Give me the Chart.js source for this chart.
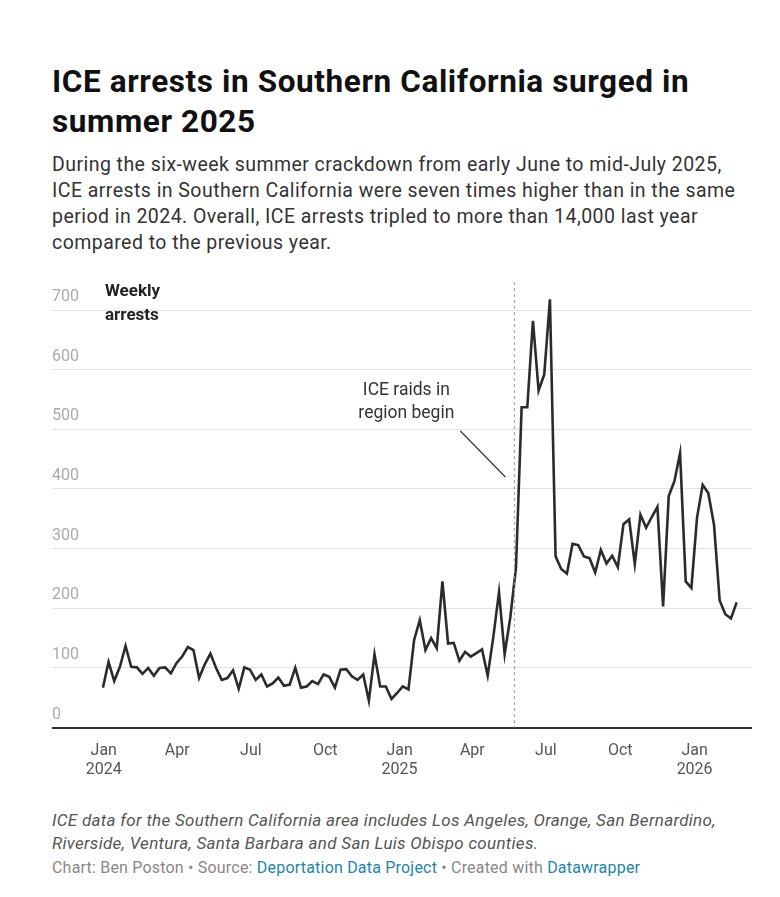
<!DOCTYPE html>
<html><head><meta charset="utf-8">
<script src="https://cdn.jsdelivr.net/npm/chart.js@4"></script>
<style>
body{margin:0;background:#fff;font-family:Roboto,sans-serif;color:#222;width:780px;height:897px;position:relative;overflow:hidden}
h1{position:absolute;left:52px;top:62px;margin:0;font-size:31.5px;line-height:40px;font-weight:700;width:700px;color:#111;letter-spacing:0.6px}
.sub{position:absolute;left:52px;top:152px;width:700px;font-size:19.5px;line-height:26px;color:#333;letter-spacing:0.45px}
#wrap{position:absolute;left:52px;top:280px;width:700px;height:506px}
.note{position:absolute;left:52px;top:809px;width:720px;font-size:17px;line-height:23px;font-style:italic;color:#555;letter-spacing:0.3px}
.src{position:absolute;left:52px;top:858px;font-size:16px;color:#888;letter-spacing:0.2px}
.src span{color:#1b86a8}
</style></head><body>
<h1>ICE arrests in Southern California surged in summer 2025</h1>
<div class="sub">During the six-week summer crackdown from early June to mid-July 2025, ICE arrests in Southern California were seven times higher than in the same period in 2024. Overall, ICE arrests tripled to more than 14,000 last year compared to the previous year.</div>
<div id="wrap"><canvas id="c"></canvas></div>
<div class="note">ICE data for the Southern California area includes Los Angeles, Orange, San Bernardino, Riverside, Ventura, Santa Barbara and San Luis Obispo counties.</div>
<div class="src">Chart: Ben Poston • Source: <span>Deportation Data Project</span> • Created with <span>Datawrapper</span></div>
<script>
// weekly arrests, first week starting 2023-12-31
const weeklyArrests = [67,110,78,102,137,102,101,90,100,87,100,101,91,108,119,135,130,83,106,124,100,80,83,96,65,101,97,80,89,69,74,84,70,72,100,67,69,78,73,89,85,67,97,98,86,80,89,45,123,69,69,48,58,69,64,147,180,130,
150,133,245,141,142,112,127,119,125,131,87,152,227,123,185,268,537,537,682,565,592,718,287,266,258,308,306,287,284,260,298,275,288,269,341,349,274,357,335,353,370,203,388,413,460,245,234,352,407,393,340,213,190,183,210];
const firstWeekDay = -1; // days relative to 2024-01-01
const tickDays = [0,91,182,274,366,456,547,639,731];
const tickLabels = [["Jan","2024"],["Apr"],["Jul"],["Oct"],["Jan","2025"],["Apr"],["Jul"],["Oct"],["Jan","2026"]];
const yTicks = [0,100,200,300,400,500,600,700];
const raidDay = 508;

const pts = weeklyArrests.map((v,i)=>({x:firstWeekDay+i*7,y:v}));
const overlay = {
  id:'overlay',
  afterDraw(ch){
    const c=ch.ctx, xs=ch.scales.x, ys=ch.scales.y;
    const xr=xs.getPixelForValue(raidDay);
    c.save();
    c.strokeStyle='#999';c.lineWidth=1;c.setLineDash([3,3]);
    c.beginPath();c.moveTo(xr,2);c.lineTo(xr,ys.bottom);c.stroke();
    c.setLineDash([]);
    c.fillStyle='#333';c.font='17.5px Roboto';c.textAlign='center';c.textBaseline='middle';
    c.fillText('ICE raids in',xr-108,111);c.fillText('region begin',xr-108,134);
    c.strokeStyle='#333';c.lineWidth=1.2;
    c.beginPath();c.moveTo(xr-54,151);c.lineTo(xr-9,197);c.stroke();
    c.fillStyle='#222';c.font='bold 17px Roboto';c.textAlign='left';
    c.fillText('Weekly',53,12);c.fillText('arrests',53,36);
    c.restore();
  }
};
new Chart(document.getElementById('c'),{
  type:'line',
  data:{datasets:[{data:pts,borderColor:'#2b2b2b',borderWidth:2.6,pointRadius:0,tension:0,fill:false,clip:false}]},
  options:{
    responsive:true,maintainAspectRatio:false,animation:false,
    layout:{padding:{top:30,left:0,right:0,bottom:0}},
    plugins:{legend:{display:false},tooltip:{enabled:false}},
    scales:{
      x:{type:'linear',min:-64,max:802,
        afterBuildTicks(s){s.ticks=tickDays.map(v=>({value:v}));},
        ticks:{autoSkip:false,maxRotation:0,color:'#555',font:{size:16,family:'Roboto'},padding:6,
          callback:(v)=>tickLabels[tickDays.indexOf(v)]},
        grid:{display:false},border:{display:true,color:'#333',width:2}},
      y:{min:0,max:700,
        afterBuildTicks(s){s.ticks=yTicks.map(v=>({value:v}));},
        ticks:{mirror:true,padding:0,labelOffset:-13,color:'#aaa',font:{size:16,family:'Roboto'}},
        grid:{color:'#e3e3e3',lineWidth:1,drawTicks:false},border:{display:false}}
    }
  },
  plugins:[overlay]
});
</script></body></html>
